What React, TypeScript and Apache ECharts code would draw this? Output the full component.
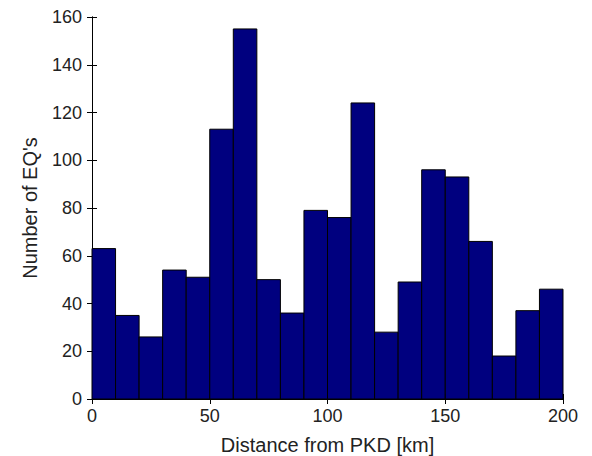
import React, { useEffect, useRef } from "react";
import * as echarts from "echarts";

const binStarts = [0, 10, 20, 30, 40, 50, 60, 70, 80, 90, 100, 110, 120, 130, 140, 150, 160, 170, 180, 190];
const binWidth = 10;
const counts = [63, 35, 26, 54, 51, 113, 155, 50, 36, 79, 76, 124, 28, 49, 96, 93, 66, 18, 37, 46];
const xTicks = [0, 50, 100, 150, 200];
const yTicks = [0, 20, 40, 60, 80, 100, 120, 140, 160];

export default function App() {
  const ref = useRef<HTMLDivElement>(null);
  useEffect(() => {
    if (!ref.current) return;
    const chart = echarts.init(ref.current, undefined, { renderer: "svg" });
    const data = binStarts.map((s, i) => [s, s + binWidth, counts[i]]);
    const font = "'Liberation Sans', Arial, sans-serif";
    const axisCommon = {
      axisLine: { show: true, lineStyle: { color: "#000", width: 1 } },
      axisTick: { show: true, inside: true, length: 5, lineStyle: { color: "#000" } },
      splitLine: { show: false },
    };
    chart.setOption({
      animation: false,
      backgroundColor: "#fff",
      grid: { left: 92, right: 29, top: 17, bottom: 57, containLabel: false, outerBoundsMode: "none" },
      xAxis: [
        {
          type: "value",
          min: xTicks[0],
          max: xTicks[xTicks.length - 1],
          interval: 50,
          position: "bottom",
          ...axisCommon,
          axisLabel: { color: "#222", fontSize: 18, fontFamily: font, margin: 8 },
          name: "Distance from PKD [km]",
          nameLocation: "middle",
          nameGap: 36,
          nameTextStyle: { color: "#222", fontSize: 20, fontFamily: font },
        },
        {
          type: "value",
          min: xTicks[0],
          max: xTicks[xTicks.length - 1],
          interval: 50,
          position: "top",
          ...axisCommon,
          axisLabel: { show: false },
        },
      ],
      yAxis: [
        {
          type: "value",
          min: yTicks[0],
          max: yTicks[yTicks.length - 1],
          interval: 20,
          position: "left",
          ...axisCommon,
          axisLabel: { color: "#222", fontSize: 18, fontFamily: font, margin: 10 },
          name: "Number of EQ's",
          nameLocation: "middle",
          nameGap: 52,
          nameTextStyle: { color: "#222", fontSize: 20, fontFamily: font },
        },
        {
          type: "value",
          min: yTicks[0],
          max: yTicks[yTicks.length - 1],
          interval: 20,
          position: "right",
          ...axisCommon,
          axisLabel: { show: false },
        },
      ],
      series: [
        {
          type: "custom",
          xAxisIndex: 0,
          yAxisIndex: 0,
          data,
          renderItem: (params: any, api: any) => {
            const p0 = api.coord([api.value(0), api.value(2)]);
            const p1 = api.coord([api.value(1), 0]);
            return {
              type: "rect",
              shape: { x: p0[0], y: p0[1], width: p1[0] - p0[0], height: p1[1] - p0[1] },
              style: { fill: "#00007f", stroke: "#000", lineWidth: 1 },
            };
          },
        },
      ],
    });
    return () => chart.dispose();
  }, []);
  return <div ref={ref} style={{ width: 592, height: 456, position: "absolute", left: 0, top: 0 }} />;
}
